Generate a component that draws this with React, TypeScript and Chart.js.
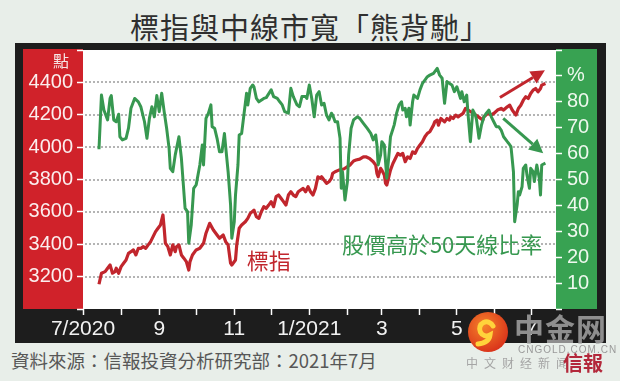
import React, { useEffect, useRef } from "react";
import { Chart, registerables } from "chart.js";

Chart.register(...registerables);

// ---- data (x = days since 1 Jul 2020) ----
const indexDays = [13,15,18,20,22,24,26,27,29,31,33,35,37,39,41,43,45,47,49,51,53,55,57,59,61,63,65,66,67,69,71,73,75,76,78,80,82,84,86,87,89,92,95,98,100,103,106,109,111,114,116,118,120,121,124,125,127,129,132,134,136,139,141,143,145,147,149,151,153,155,157,159,161,163,165,167,169,171,173,175,177,179,181,183,185,187,189,191,193,194,196,198,200,202,203,205,208,212,217,220,222,225,228,230,233,236,238,239,240,242,243,245,246,247,249,250,252,254,256,258,260,262,264,266,268,270,272,274,276,278,280,282,285,286,288,289,291,294,296,298,299,301,303,305,307,309,311,315,319,321,325,326,329,332,334,337,340,342,345,347,349,352,354,356,358,360,362,364,366,368,370,372,373,376];
const indexValues = [3153,3221,3231,3252,3272,3221,3231,3252,3221,3262,3283,3303,3344,3354,3365,3334,3375,3375,3385,3375,3396,3416,3447,3478,3499,3519,3581,3499,3406,3385,3334,3396,3354,3385,3396,3334,3314,3293,3241,3293,3334,3365,3375,3406,3468,3529,3488,3457,3437,3457,3416,3396,3283,3272,3303,3396,3499,3519,3539,3560,3591,3611,3570,3560,3601,3632,3622,3642,3663,3632,3694,3704,3684,3663,3642,3704,3724,3704,3694,3724,3735,3745,3724,3755,3724,3704,3745,3817,3807,3817,3797,3776,3786,3807,3838,3848,3858,3865,3889,3914,3920,3926,3940,3940,3930,3910,3889,3838,3817,3869,3858,3827,3776,3766,3827,3858,3899,3930,3961,3951,3961,3910,3940,3930,3971,3961,3992,4013,4033,4064,4085,4095,4136,4156,4167,4136,4177,4156,4177,4167,4187,4177,4198,4187,4198,4208,4239,4220,4200,4190,4167,4187,4208,4198,4208,4229,4239,4229,4249,4259,4229,4198,4239,4259,4290,4311,4300,4331,4352,4362,4341,4362,4383,4393];

const breadthDays = [13,15,17,20,22,23,25,27,29,30,32,35,37,39,42,45,47,50,52,54,56,58,60,62,64,66,68,70,71,73,75,78,80,83,85,86,88,90,92,95,97,98,100,102,104,105,107,109,111,113,115,116,118,120,121,123,124,126,127,129,131,133,134,136,138,139,141,143,147,149,153,155,158,160,162,164,167,169,171,174,176,178,181,182,184,186,188,190,192,194,196,198,200,202,203,205,207,209,210,211,213,215,216,218,220,223,225,228,231,234,236,238,239,240,242,243,245,246,247,249,250,253,255,257,259,260,262,263,265,266,268,269,272,274,276,278,280,282,285,288,290,292,294,296,298,300,302,304,307,308,310,312,313,315,317,319,320,322,324,326,328,330,332,334,336,338,340,342,345,346,348,350,351,353,354,355,357,358,360,361,363,364,366,367,369,371,372,373,376];
const breadthValues = [61.7,82.6,76.8,73,81.3,82.4,73,72.3,75.2,66.5,65.3,65.9,69.8,77.5,81.3,80,78.1,72.3,65.9,73.6,78.1,74.2,82.4,76.2,83.3,76.2,69.8,62,54.3,53,59.5,66.5,58.2,38.9,37.6,25.4,32.4,46.6,47.9,55.6,63.3,55.6,73.6,75.6,78.8,70.4,69.8,65.9,60.7,60.7,67.8,62.7,53,40.2,27.3,33.7,44,55.6,67.2,67.8,75.6,83.3,78.8,85.2,86.5,85.8,81.3,80,81.3,81.6,84.6,82,81.3,80,78.8,76.2,75.6,85.2,82,78.8,78.1,82,82,81.3,86.5,81.3,74.2,82.6,83.9,78.8,79.4,74.9,73,75.6,74.9,72.3,72.3,65.9,46.6,53,42.1,49.2,59.5,69.8,73,74.2,73.6,71.7,69.8,67.8,65.3,67.2,63.3,55.6,59.5,64.6,63.3,56.9,50.5,60.7,66.5,71,75.6,78.8,80,76.8,77.5,74.2,77.5,71,80,82.6,81.3,84.6,87.1,88.4,89.7,90.3,91,92.9,90.3,89.1,79.4,87.8,87.1,86.5,83.9,85.8,81.3,83.9,80,82.6,75.6,64.6,76.8,74.9,73,65.9,71,74.2,75.6,76.8,74.2,72.3,70.4,70.4,69.1,66.5,64.6,64,62.7,53,33.7,40.2,45.3,44,47.2,54.3,55.6,51.7,46.6,54.3,53,49.2,55.6,50.5,44,55.6,56.3];

const monthTickDays = [0,31,62,92,123,153,184,215,243,274,304,335,365];
const monthTickLabels = ["7/2020","","9","","11","","1/2021","","3","","5","","7"];
const gridValues = [3200,3400,3600,3800,4000,4200,4400];

const titleText = "標指與中線市寬「熊背馳」";
const sourceText = "資料來源：信報投資分析研究部：2021年7月";
const indexName = "標指";
const breadthName = "股價高於50天線比率";
const leftUnit = "點";
// annotation anchors in data units
const indexLabelAt = [151, 3297];
const breadthLabelAt = [292, 24.7];
const redArrow = [339, 4307, 375.6, 4475];
const greenArrow = [341.7, 73.6, 374.2, 60.1];

const RED = "#c1262d";
const GREEN = "#379850";
const RED_PANEL = "#d0222a";
const GREEN_PANEL = "#38a252";
const FRAME = "#1d1d1d";
const GRID = "#b4b4b4";
const NUM_FONT = "'Liberation Sans', Arial, sans-serif";
const CJK_FONT = "'Noto Sans CJK TC', 'Noto Sans', sans-serif";

function drawArrow(ctx: CanvasRenderingContext2D, x1: number, y1: number, x2: number, y2: number, color: string) {
  const ang = Math.atan2(y2 - y1, x2 - x1);
  const headLen = 14;
  const headHalf = 7;
  const bx = x2 - headLen * Math.cos(ang);
  const by = y2 - headLen * Math.sin(ang);
  ctx.strokeStyle = color;
  ctx.fillStyle = color;
  ctx.lineWidth = 3;
  ctx.beginPath();
  ctx.moveTo(x1, y1);
  ctx.lineTo(bx, by);
  ctx.stroke();
  ctx.beginPath();
  ctx.moveTo(x2, y2);
  ctx.lineTo(bx + headHalf * Math.sin(ang), by - headHalf * Math.cos(ang));
  ctx.lineTo(bx - headHalf * Math.sin(ang), by + headHalf * Math.cos(ang));
  ctx.closePath();
  ctx.fill();
}

const panelPlugin = {
  id: "panels",
  beforeDraw(chart: any) {
    const { ctx, chartArea: a, width } = chart;
    ctx.save();
    ctx.fillStyle = FRAME;
    ctx.fillRect(0, a.top - 7, width, chart.height - (a.top - 7));
    ctx.fillStyle = RED_PANEL;
    ctx.fillRect(8, a.top - 1, a.left - 8, a.bottom - a.top + 1);
    ctx.fillStyle = GREEN_PANEL;
    ctx.fillRect(a.right, a.top - 1, 41, a.bottom - a.top + 1);
    ctx.fillStyle = "#ffffff";
    ctx.fillRect(a.left, a.top, a.right - a.left, a.bottom - a.top);
    ctx.restore();
  },
  beforeDatasetsDraw(chart: any) {
    // dotted horizontal grid at the left-axis ticks, drawn as small dots
    const { ctx, chartArea: a } = chart;
    const y = chart.scales.y;
    ctx.save();
    ctx.fillStyle = GRID;
    gridValues.forEach((v) => {
      const py = Math.round(y.getPixelForValue(v)) - 1;
      for (let px = Math.ceil(a.left) + 2; px < a.right - 2; px += 4) {
        ctx.fillRect(px, py, 2, 2);
      }
    });
    ctx.restore();
  },
  afterDatasetsDraw(chart: any) {
    const { ctx, chartArea: a } = chart;
    const x = chart.scales.x, y = chart.scales.y, y2 = chart.scales.y2;
    ctx.save();
    ctx.textAlign = "center";
    ctx.textBaseline = "middle";
    ctx.font = `22px ${CJK_FONT}`;
    ctx.fillStyle = RED;
    ctx.fillText(indexName, x.getPixelForValue(indexLabelAt[0]), y.getPixelForValue(indexLabelAt[1]));
    ctx.fillStyle = GREEN;
    ctx.fillText(breadthName, x.getPixelForValue(breadthLabelAt[0]), y2.getPixelForValue(breadthLabelAt[1]));
    drawArrow(ctx, x.getPixelForValue(redArrow[0]), y.getPixelForValue(redArrow[1]), x.getPixelForValue(redArrow[2]), y.getPixelForValue(redArrow[3]), RED);
    drawArrow(ctx, x.getPixelForValue(greenArrow[0]), y2.getPixelForValue(greenArrow[1]), x.getPixelForValue(greenArrow[2]), y2.getPixelForValue(greenArrow[3]), GREEN);
    ctx.font = `16px ${CJK_FONT}`;
    ctx.fillStyle = "#f6e6e6";
    ctx.fillText(leftUnit, a.left - 22, a.top + 11);
    ctx.restore();
  },
};

function ChartBox() {
  const ref = useRef<HTMLCanvasElement>(null);
  useEffect(() => {
    if (!ref.current) return;
    const chart = new Chart(ref.current, {
      type: "line",
      data: {
        datasets: [
          {
            label: breadthName,
            data: breadthDays.map((d, i) => ({ x: d, y: breadthValues[i] })),
            yAxisID: "y2",
            borderColor: GREEN,
            borderWidth: 3,
            pointRadius: 0,
            tension: 0,
            borderJoinStyle: "round",
          },
          {
            label: indexName,
            data: indexDays.map((d, i) => ({ x: d, y: indexValues[i] })),
            yAxisID: "y",
            borderColor: RED,
            borderWidth: 3.2,
            pointRadius: 0,
            tension: 0,
            borderJoinStyle: "round",
          },
        ],
      },
      options: {
        animation: false,
        responsive: false,
        events: [],
        layout: { padding: { top: 19, left: 0, right: 0, bottom: 0 } },
        plugins: { legend: { display: false }, tooltip: { enabled: false } },
        scales: {
          x: {
            type: "linear",
            min: 0,
            max: 384.6,
            afterBuildTicks: (axis: any) => {
              axis.ticks = monthTickDays.map((v) => ({ value: v }));
            },
            afterFit: (s: any) => { s.height = 34; },
            border: { display: false },
            grid: { drawOnChartArea: false, drawTicks: true, tickLength: 6, tickColor: "#ffffff", tickWidth: 1.5 },
            ticks: {
              autoSkip: false,
              maxRotation: 0,
              padding: 2,
              color: "#f2f2f2",
              font: { family: NUM_FONT, size: 21 },
              callback: (_v: any, i: number) => monthTickLabels[i],
            },
          },
          y: {
            position: "left",
            min: 3000,
            max: 4600,
            afterFit: (s: any) => { s.width = 68; },
            border: { display: false },
            grid: {
              drawOnChartArea: false,
              tickLength: 6,
              tickColor: "#ffffff",
              tickWidth: 1.5,
            },
            ticks: {
              stepSize: 200,
              autoSkip: false,
              padding: 4,
              color: "#fbeeee",
              font: { family: NUM_FONT, size: 20 },
              callback: (v: any) => (v === 3000 || v === 4600 ? "" : String(v)),
            },
          },
          y2: {
            position: "right",
            min: 0,
            max: 100,
            afterFit: (s: any) => { s.width = 50; },
            border: { display: false },
            grid: { drawOnChartArea: false, tickLength: 6, tickColor: "#ffffff", tickWidth: 1.5 },
            ticks: {
              stepSize: 10,
              autoSkip: false,
              padding: 5,
              color: "#eef8ee",
              font: { family: NUM_FONT, size: 20 },
              callback: (v: any) => (v === 90 ? "%" : v === 0 || v === 100 ? "" : String(v)),
            },
          },
        },
      },
      plugins: [panelPlugin],
    } as any);
    return () => chart.destroy();
  }, []);
  return <canvas ref={ref} width={591} height={312} style={{ position: "absolute", left: 15, top: 31, width: 591, height: 312 }} />;
}

function Logo() {
  return (
    <>
      <svg width={44} height={44} viewBox="0 0 44 44" style={{ position: "absolute", left: 466, top: 310 }}>
        <defs>
          <radialGradient id="lg" cx="40%" cy="35%" r="70%">
            <stop offset="0%" stopColor="#f5822a" />
            <stop offset="100%" stopColor="#d8301a" />
          </radialGradient>
        </defs>
        <circle cx={22} cy={22} r={20} fill="url(#lg)" />
        <path d="M27 16 a7 7 0 1 0 -3 9 q-1 8 -12 9" fill="none" stroke="#ffd33b" strokeWidth={5} strokeLinecap="round" />
      </svg>
      <div style={{ position: "absolute", left: 514, top: 310, font: `bold 30px 'Noto Sans CJK SC', sans-serif`, lineHeight: "34px", color: "#8e8e8e", letterSpacing: 1, whiteSpace: "nowrap" }}>中金网</div>
      <div style={{ position: "absolute", left: 518, top: 344, font: `10px ${NUM_FONT}`, lineHeight: "12px", color: "#9a9a9a", letterSpacing: 1, whiteSpace: "nowrap" }}>CNGOLD.COM.CN</div>
      <div style={{ position: "absolute", left: 466, top: 356, font: `12px 'Noto Sans CJK SC', sans-serif`, lineHeight: "14px", color: "#a5a5a5", letterSpacing: 6, whiteSpace: "nowrap" }}>中文财经新闻</div>
      <div style={{ position: "absolute", left: 563, top: 352, font: `bold 20px ${CJK_FONT}`, lineHeight: "22px", color: "#b3283b", whiteSpace: "nowrap" }}>信報</div>
    </>
  );
}

export default function App() {
  return (
    <div style={{ position: "absolute", left: 0, top: 0, width: 620, height: 381, background: "#e8eee9", overflow: "hidden" }}>
      <div style={{ position: "absolute", left: 0, top: 12, width: 620, textAlign: "center", font: `29px ${CJK_FONT}`, lineHeight: "29px", color: "#2f2f2f", letterSpacing: 1, whiteSpace: "nowrap" }}>{titleText}</div>
      <ChartBox />
      <div style={{ position: "absolute", left: 11, top: 350, font: `18.5px ${CJK_FONT}`, lineHeight: "20px", color: "#575757", whiteSpace: "nowrap" }}>{sourceText}</div>
      <Logo />
    </div>
  );
}
